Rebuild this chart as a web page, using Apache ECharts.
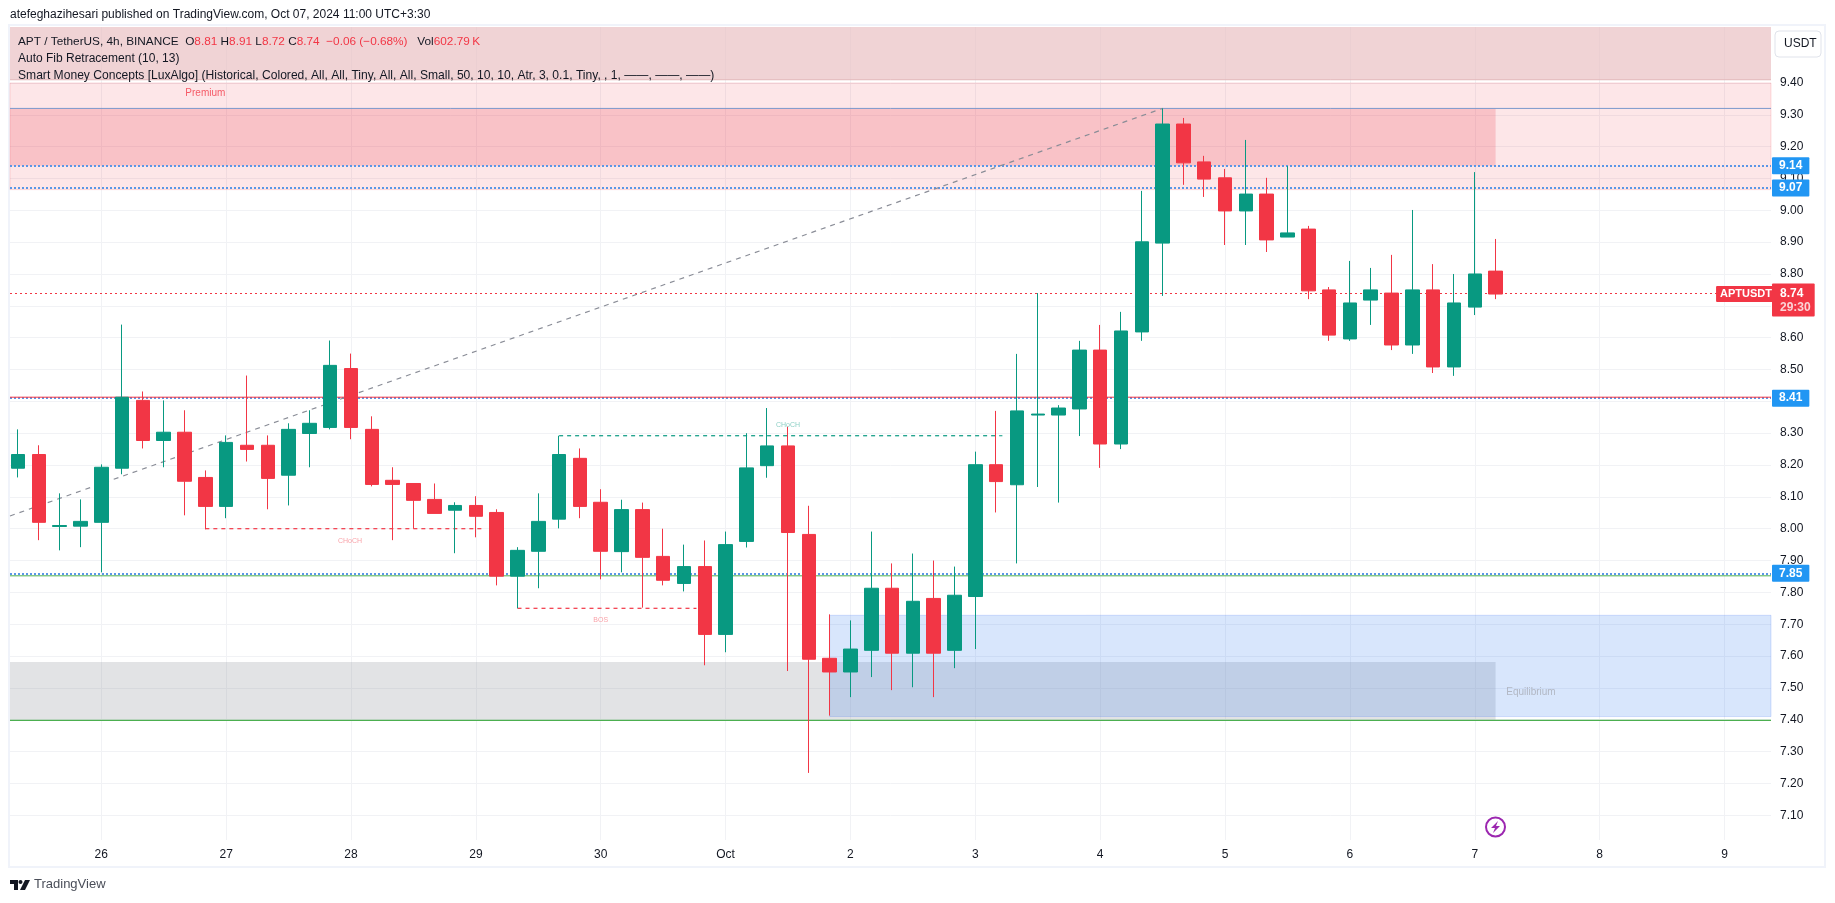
<!DOCTYPE html>
<html>
<head>
<meta charset="utf-8">
<title>APT / TetherUS</title>
<style>
    html, body { margin: 0; padding: 0; background: #fff; }
    #chart { width: 1835px; height: 903px; }
</style>
<script src="https://cdn.jsdelivr.net/npm/echarts@6/dist/echarts.min.js"></script>
</head>
<body>
<div id="chart"></div>
<script>
    // 4h candles
    var opens = [8.19, 8.233, 8.007, 8.008, 8.02, 8.19, 8.403, 8.277, 8.303, 8.161, 8.07, 8.262, 8.262, 8.168, 8.299, 8.318, 8.503, 8.312,
        8.152, 8.142, 8.092, 8.058, 8.073, 8.051, 7.851, 7.929, 8.03, 8.221, 8.083, 7.928, 8.06, 7.913, 7.828, 7.881, 7.668, 7.96,
        8.198, 8.26, 7.982, 7.593, 7.55, 7.618, 7.813, 7.609, 7.781, 7.618, 7.787, 8.201, 8.138, 8.357, 8.357, 8.376, 8.561, 8.266,
        8.618, 8.897, 9.271, 9.152, 9.102, 8.998, 9.051, 8.916, 8.941, 8.75, 8.596, 8.718, 8.74, 8.577, 8.75, 8.508, 8.696, 8.809];
    var closes = [8.233, 8.02, 8.01, 8.023, 8.193, 8.413, 8.277, 8.303, 8.149, 8.07, 8.271, 8.249, 8.158, 8.312, 8.331, 8.513, 8.318, 8.139,
        8.139, 8.089, 8.048, 8.073, 8.039, 7.851, 7.932, 8.023, 8.233, 8.07, 7.929, 8.06, 7.91, 7.838, 7.881, 7.668, 7.95, 8.191,
        8.26, 7.988, 7.59, 7.55, 7.622, 7.813, 7.609, 7.772, 7.609, 7.791, 8.201, 8.148, 8.37, 8.36, 8.379, 8.561, 8.266, 8.621,
        8.901, 9.271, 9.149, 9.098, 8.998, 9.051, 8.907, 8.929, 8.747, 8.608, 8.709, 8.75, 8.577, 8.75, 8.508, 8.709, 8.8, 8.737];
    var lows = [8.161, 7.964, 7.932, 7.942, 7.863, 8.171, 8.252, 8.193, 8.042, 7.998, 8.033, 8.211, 8.061, 8.073, 8.193, 8.312, 8.281, 8.133,
        7.964, 8.0, 8.048, 7.923, 7.973, 7.822, 7.75, 7.813, 8.001, 8.033, 7.841, 7.863, 7.752, 7.822, 7.803, 7.571, 7.612, 7.941,
        8.16, 7.553, 7.233, 7.413, 7.471, 7.534, 7.493, 7.502, 7.471, 7.562, 7.622, 8.051, 7.891, 8.131, 8.082, 8.291, 8.191, 8.25,
        8.59, 8.731, 9.08, 9.042, 8.891, 8.891, 8.869, 8.916, 8.721, 8.59, 8.59, 8.64, 8.561, 8.549, 8.489, 8.48, 8.671, 8.721];
    var highs = [8.312, 8.262, 8.111, 8.092, 8.202, 8.641, 8.431, 8.403, 8.372, 8.183, 8.293, 8.481, 8.293, 8.331, 8.372, 8.591, 8.55, 8.353,
        8.193, 8.142, 8.142, 8.083, 8.102, 8.061, 7.942, 8.111, 8.292, 8.252, 8.124, 8.091, 8.082, 8.0, 7.95, 7.963, 7.991, 8.3,
        8.379, 8.32, 8.072, 7.731, 7.712, 7.991, 7.891, 7.922, 7.9, 7.881, 8.242, 8.37, 8.549, 8.74, 8.388, 8.59, 8.64, 8.681,
        9.061, 9.32, 9.29, 9.171, 9.13, 9.221, 9.102, 9.139, 8.951, 8.759, 8.841, 8.819, 8.86, 9.001, 8.831, 8.8, 9.12, 8.91];

    // axes
    var dayIndexes = [4, 10, 16, 22, 28, 34, 40, 46, 52, 58, 64, 70, 76, 82];
    var dayLabels = ['26', '27', '28', '29', '30', 'Oct', '2', '3', '4', '5', '6', '7', '8', '9'];
    var priceTicks = [7.1, 7.2, 7.3, 7.4, 7.5, 7.6, 7.7, 7.8, 7.9, 8.0, 8.1, 8.2, 8.3, 8.4, 8.5, 8.6, 8.7, 8.8, 8.9, 9.0, 9.1, 9.2, 9.3, 9.4];
    var xMin = -0.387, xMax = 84.235;
    var yMin = 7.0223, yMax = 9.5757;

    // price levels and indicator pieces
    var lastPrice = 8.737;
    var priceTags = [9.137, 9.067, 8.406, 7.857];
    var priceTagLabels = ['9.14', '9.07', '8.41', '7.85'];
    var redLevel = 8.413, greenLevels = [7.852, 7.398], swingHigh = 9.32;
    var topBand = [9.41, 9.5757], premiumBand = [9.065, 9.40], supplyBand = [9.14, 9.32], demandGrey = [7.40, 7.581], blueBox = [7.41, 7.728];
    var zoneEnd = 71, blueBoxStart = 39;
    var fibLine = [[-0.387, 8.04], [55, 9.32]];
    var chochUp = [[26, 8.292], [47.3, 8.292]];
    var chochDown = [[9, 8.0], [22.4, 8.0]];
    var bosDown = [[24, 7.75], [32.6, 7.75]];

    var legendOHLC = ['8.81', '8.91', '8.72', '8.74'];
    var legendChange = '\u22120.06 (\u22120.68%)';
    var legendVol = '602.79\u2009K';

    var GREEN = '#089981', RED = '#f23645', BLUE = '#2196f3', TEXT = '#131722';
    var FONT = '"Liberation Sans", Arial, sans-serif';

    var candles = opens.map(function (o, i) {
        return [i, o, closes[i], lows[i], highs[i]];
    });

    function segment(pts, color, type, width, z) {
        return {
            type: 'line', data: pts, showSymbol: false, silent: true, z: z || 1,
            lineStyle: { color: color, type: type, width: width }, animation: false
        };
    }
    function zone(x0, x1, band, color, border) {
        return [{ xAxis: x0, yAxis: band[0], itemStyle: { color: color, borderColor: border || 'transparent', borderWidth: border ? 1 : 0 } }, { xAxis: x1, yAxis: band[1] }];
    }
    function note(x, y, text, color, size) {
        return {
            type: 'scatter', data: [[x, y]], symbolSize: 0, silent: true, animation: false,
            label: { show: true, position: 'inside', formatter: text, color: color, fontSize: size, fontFamily: FONT }
        };
    }
    function flat(level, color, type, width) {
        return segment([[xMin, level], [xMax, level]], color, type, width);
    }

    var series = [
        {
            type: 'line', data: [], silent: true, animation: false, z: 0,
            markArea: {
                silent: true, z: 1,
                data: [
                    zone(xMin, xMax, topBand, 'rgba(232,187,190,0.65)'),
                    zone(xMin, xMax, premiumBand, 'rgba(242,54,69,0.125)', 'rgba(242,54,69,0.16)'),
                    zone(xMin, zoneEnd, supplyBand, 'rgba(235,50,70,0.2)'),
                    zone(xMin, zoneEnd, demandGrey, 'rgba(120,123,134,0.215)'),
                    zone(blueBoxStart, xMax, blueBox, 'rgba(60,130,240,0.2)', 'rgba(60,110,240,0.2)')
                ]
            }
        },
        flat(topBand[0], '#e2b6b8', 'solid', 1),
        flat(swingHigh, '#7b98cc', 'solid', 1),
        flat(redLevel, RED, 'solid', 1),
        flat(greenLevels[0], '#4caf50', 'solid', 1),
        flat(greenLevels[1], '#4caf50', 'solid', 1.2),
        segment(fibLine, '#8a8d97', [5, 5], 1.2),
        segment(chochUp, GREEN, [4, 4], 1.2),
        segment(chochDown, RED, [4, 4], 1.2),
        segment(bosDown, RED, [4, 4], 1.2),
        {
            type: 'line', data: [], silent: true, animation: false, z: 1,
            markLine: {
                silent: true, symbol: 'none', z: 1, animation: false,
                lineStyle: { color: '#5a96e6', type: 'dotted', width: 2 },
                label: {
                    show: true, position: 'end', distance: 1, color: '#fff', fontSize: 12, fontWeight: 'bold', fontFamily: FONT,
                    backgroundColor: BLUE, padding: [3, 7, 2, 7], borderRadius: 1,
                    formatter: function (p) { return priceTagLabels[p.dataIndex]; }
                },
                data: priceTags.map(function (v) { return { yAxis: v }; })
            }
        },
        {
            type: 'line', data: [], silent: true, animation: false, z: 1,
            markLine: {
                silent: true, symbol: 'none', z: 1, animation: false,
                lineStyle: { color: RED, type: [2, 3], width: 1 },
                data: [
                    {
                        yAxis: lastPrice,
                        label: {
                            show: true, position: 'end', distance: 1, formatter: '{a|8.74}\n{b|29:30}', offset: [0, 7], backgroundColor: RED, padding: [3, 4, 2, 8], borderRadius: 1,
                            rich: {
                                a: { color: '#fff', fontSize: 12, fontWeight: 'bold', fontFamily: FONT, lineHeight: 14 },
                                b: { color: '#fbd3d6', fontSize: 12, fontWeight: 'bold', fontFamily: FONT, lineHeight: 14 }
                            }
                        }
                    },
                    {
                        yAxis: lastPrice,
                        label: {
                            show: true, position: 'insideEnd', distance: 0, formatter: 'APTUSDT', color: '#fff', fontSize: 11, fontWeight: 'bold', fontFamily: FONT,
                            backgroundColor: RED, padding: [3, 4, 2, 4], borderRadius: 1, offset: [5, 1]
                        }
                    }
                ]
            }
        },
        {
            type: 'candlestick', z: 2, silent: true, animation: false, barWidth: 14,
            data: candles,
            encode: { x: 0, y: [1, 2, 3, 4] },
            itemStyle: { color: GREEN, color0: RED, borderColor: GREEN, borderColor0: RED, borderWidth: 1 }
        },
        note(37, 8.327, 'CHoCH', 'rgba(8,153,129,0.6)', 7),
        note(15.95, 7.962, 'CHoCH', 'rgba(242,54,69,0.6)', 7),
        note(28, 7.713, 'BOS', 'rgba(242,54,69,0.6)', 7),
        note(9, 9.369, 'Premium', RED, 10),
        note(72.7, 7.487, 'Equilibrium', '#a8abb5', 10)
    ];

    var chart = echarts.init(document.getElementById('chart'));
    chart.setOption({
        animation: false,
        backgroundColor: '#fff',
        grid: { left: 10, right: 64, top: 27, bottom: 63 },
        xAxis: {
            type: 'value', min: xMin, max: xMax, scale: true,
            axisLine: { show: false },
            axisTick: { show: false, customValues: dayIndexes },
            axisLabel: {
                customValues: dayIndexes, color: TEXT, fontSize: 12, fontFamily: FONT, margin: 9, hideOverlap: false,
                formatter: function (v) { return dayLabels[dayIndexes.indexOf(v)]; }
            },
            splitLine: { show: true, lineStyle: { color: '#f1f2f5', width: 1 } }
        },
        yAxis: {
            type: 'value', position: 'right', min: yMin, max: yMax, scale: true,
            axisLine: { show: false },
            axisTick: { show: false, customValues: priceTicks },
            axisLabel: {
                customValues: priceTicks, color: TEXT, fontSize: 12, fontFamily: FONT, margin: 9, hideOverlap: false, padding: [2, 0, 0, 0],
                formatter: function (v) { return v.toFixed(2); }
            },
            splitLine: { show: true, lineStyle: { color: '#f1f2f5', width: 1 } }
        },
        series: series,
        graphic: [
            { type: 'rect', silent: true, z: -1, shape: { x: 9, y: 25, width: 1816, height: 842 }, style: { fill: 'none', stroke: '#f0f3fa', lineWidth: 2 } },
            { type: 'text', left: 10, top: 9, silent: true, style: { text: 'atefeghazihesari published on TradingView.com, Oct 07, 2024 11:00 UTC+3:30', fill: TEXT, font: '12px ' + FONT } },
            {
                type: 'text', left: 18, top: 36, silent: true, z: 10,
                style: {
                    text: '{k|APT / TetherUS, 4h, BINANCE  O}{r|' + legendOHLC[0] + '}{k| H}{r|' + legendOHLC[1] + '}{k| L}{r|' + legendOHLC[2] + '}{k| C}{r|' + legendOHLC[3] + '}{r|  ' + legendChange + '}{k|   Vol}{r|' + legendVol + '}',
                    rich: { k: { fill: TEXT, font: '11.8px ' + FONT }, r: { fill: RED, font: '11.8px ' + FONT } }
                }
            },
            { type: 'text', left: 18, top: 53, silent: true, z: 10, style: { text: 'Auto Fib Retracement (10, 13)', fill: TEXT, font: '12px ' + FONT } },
            { type: 'text', left: 18, top: 70, silent: true, z: 10, style: { text: 'Smart Money Concepts [LuxAlgo] (Historical, Colored, All, All, Tiny, All, All, Small, 50, 10, 10, Atr, 3, 0.1, Tiny, , 1, \u2014\u2014, \u2014\u2014, \u2014\u2014)', fill: TEXT, font: '12.1px ' + FONT } },
            { type: 'rect', silent: true, z: 10, shape: { x: 1775, y: 31, width: 46, height: 26, r: 4 }, style: { fill: '#fff', stroke: '#e0e3eb', lineWidth: 1 } },
            { type: 'text', left: 1784, top: 38, silent: true, z: 11, style: { text: 'USDT', fill: TEXT, font: '12px ' + FONT } },
            { type: 'circle', silent: true, z: 10, shape: { cx: 1495.5, cy: 827, r: 9.5 }, style: { fill: 'none', stroke: '#9c27b0', lineWidth: 2 } },
            { type: 'polygon', silent: true, z: 10, shape: { points: [[1498, 821], [1491, 828], [1495, 828], [1493, 833], [1500, 826], [1496, 826]] }, style: { fill: '#9c27b0' } },
            { type: 'polygon', silent: true, z: 10, shape: { points: [[10, 880], [18, 880], [18, 890], [14, 890], [14, 884], [10, 884]] }, style: { fill: '#131722' } },
            { type: 'circle', silent: true, z: 10, shape: { cx: 20.5, cy: 882, r: 2 }, style: { fill: '#131722' } },
            { type: 'polygon', silent: true, z: 10, shape: { points: [[25, 880], [30, 880], [25, 890], [20, 890]] }, style: { fill: '#131722' } },
            { type: 'text', left: 34, top: 878, silent: true, z: 10, style: { text: 'TradingView', fill: '#4a4e59', font: '13px ' + FONT } }
        ]
    });
</script>
</body>
</html>
